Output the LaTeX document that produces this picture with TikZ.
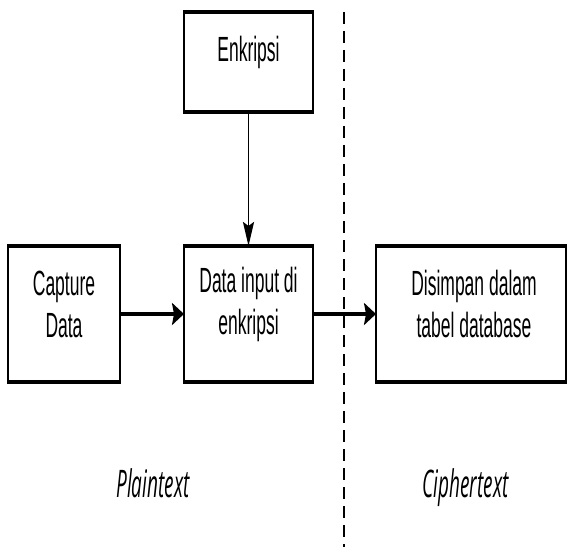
\documentclass[tikz,border=0pt]{standalone}
\usepackage{fontspec}
\setmainfont{Liberation Sans}
\newfontfamily\capfont[ItalicFont={Open Sans Italic}]{Open Sans}
\usetikzlibrary{arrows.meta}
\begin{document}
\begin{tikzpicture}[x=1pt,y=1pt]
\useasboundingbox (0,0) rectangle (567,547);
\begin{scope}[transform canvas={yscale=2},
  box/.style={draw, line width=1.8pt, inner sep=0pt, outer sep=0pt},
  txt/.style={inner sep=0pt, align=center, font=\fontsize{17.5}{21}\selectfont},
  lbl/.style={inner sep=0pt, anchor=base, font=\capfont\itshape\fontsize{19}{22}\selectfont},
  conn/.style={line width=1.6pt, -{Stealth[length=12pt,width=11pt,inset=2pt]}},
  divider/.style={line width=1.2pt, dash pattern=on 6pt off 3.5pt}]
  % boxes
  \node[box, minimum width=129, minimum height=50] (enk) at (248.5,242.5) {};
  \node[box, minimum width=112, minimum height=68] (cap) at (64,116.5) {};
  \node[box, minimum width=129, minimum height=68] (inp) at (248.5,116.5) {};
  \node[box, minimum width=190, minimum height=68] (sim) at (471,116.5) {};
  % texts
  \node[txt] (enkt) at ([yshift=5]enk.center) {Enkripsi};
  \node[txt] (capt) at ([yshift=5]cap.center) {Capture\\Data};
  \node[txt] (inpt) at ([yshift=5]inp.center) {Data input di\\enkripsi};
  \node[txt] (simt) at ([yshift=5,xshift=3]sim.center) {Disimpan dalam\\tabel database};
  % divider
  \coordinate (dtop) at (344,267.5);
  \coordinate (dbot) at (344,0);
  \draw[divider] (dtop) -- (dbot);
  % connectors
  \draw[conn] (cap.east) -- (inp.west);
  \draw[conn] (enk.south) -- (inp.north);
  \draw[conn] (inp.east) -- (sim.west);
  % labels
  \node[lbl] (plain) at (153,25) {Plaintext};
  \node[lbl] (ciph) at (465.5,25) {Ciphertext};
\end{scope}
\end{tikzpicture}
\end{document}
